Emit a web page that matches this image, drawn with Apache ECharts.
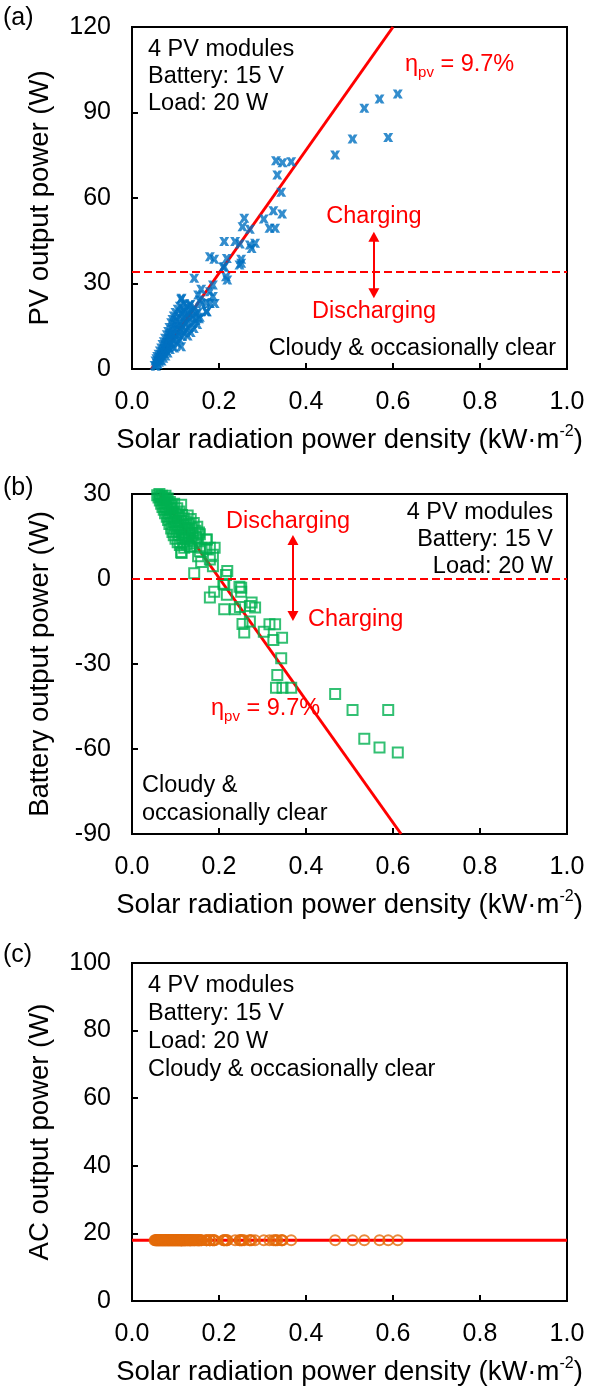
<!DOCTYPE html>
<html>
<head>
<meta charset="utf-8">
<script src="https://cdn.jsdelivr.net/npm/echarts@6/dist/echarts.min.js"></script>
<style>
  html, body { margin: 0; padding: 0; background: #fff; }
  #chart { width: 593px; height: 1390px; }
</style>
</head>
<body>
<div id="chart"></div>
<script>
// Solar radiation power density for each logged sample (kW·m-2)
const irradiance = [
  0.467, 0.507, 0.534, 0.569, 0.589, 0.611, 0.331, 0.346, 0.366, 0.334,
  0.343, 0.325, 0.345, 0.303, 0.258, 0.254, 0.271, 0.316, 0.329, 0.212,
  0.237, 0.248, 0.271, 0.283, 0.275, 0.179, 0.189, 0.218, 0.251, 0.247,
  0.210, 0.216, 0.143, 0.251, 0.212, 0.219, 0.186, 0.159, 0.179, 0.186,
  0.113, 0.171, 0.156, 0.190, 0.133, 0.171, 0.121, 0.114, 0.152, 0.160,
  0.172, 0.179,
  0.052, 0.054, 0.055, 0.056, 0.057, 0.058, 0.059, 0.060,
  0.061, 0.062, 0.063, 0.064, 0.065, 0.066, 0.067, 0.068, 0.069, 0.070,
  0.071, 0.072, 0.073, 0.074, 0.075, 0.076, 0.077, 0.078, 0.079, 0.080,
  0.081, 0.082, 0.083, 0.084, 0.085, 0.086, 0.087, 0.088, 0.089, 0.090,
  0.091, 0.092, 0.093, 0.094, 0.095, 0.096, 0.097, 0.098, 0.099, 0.100,
  0.101, 0.102, 0.103, 0.104, 0.105, 0.106, 0.107, 0.108, 0.109, 0.110,
  0.111, 0.112, 0.113, 0.114, 0.115, 0.116, 0.117, 0.118, 0.119, 0.120,
  0.122, 0.123, 0.124, 0.126, 0.127, 0.128, 0.130, 0.131, 0.133, 0.134, 0.135,
  0.137, 0.138, 0.140, 0.142, 0.144, 0.146, 0.148, 0.150, 0.152, 0.154, 0.156
];

// PV array output power (W)
const pvPower = [
  75.1, 80.7, 91.5, 94.7, 81.2, 96.5, 73.1, 72.4, 72.7, 68.1,
  62.0, 55.5, 54.4, 52.6, 52.9, 49.9, 49.0, 49.4, 49.4, 44.7,
  44.7, 43.9, 43.5, 44.1, 42.3, 39.4, 38.5, 38.8, 38.5, 36.5,
  35.7, 32.4, 31.8, 37.1, 35.9, 31.2, 29.5, 28.0, 27.1, 25.4,
  24.5, 23.3, 24.2, 23.0, 22.5, 20.1, 20.1, 24.8, 26.0, 23.0,
  20.1, 23.0,
  1.2, 2.8, 1.0, 3.6, 2.0, 4.4, 1.6, 3.0,
  5.2, 2.4, 4.0, 6.3, 3.2, 5.0, 7.4, 2.8, 4.6, 8.6,
  6.0, 3.8, 9.6, 5.4, 7.2, 10.8, 4.6, 8.4, 6.4, 12.0,
  9.2, 5.6, 13.2, 7.6, 10.6, 14.6, 6.8, 11.8, 9.0, 16.2,
  12.6, 8.0, 17.4, 10.4, 14.0, 18.6, 7.4, 12.2, 15.6, 19.8,
  10.8, 13.8, 17.0, 9.0, 21.0, 15.0, 12.0, 18.4, 10.2, 22.0,
  16.2, 13.4, 7.8, 19.6, 11.4, 14.8, 21.2, 17.6, 12.6, 23.0,
  15.8, 18.8, 13.6, 21.8, 16.6, 11.6, 19.8, 14.6, 17.8, 22.6, 12.8,
  20.6, 16.0, 18.6, 14.2, 21.4, 17.0, 19.4, 15.6, 20.0, 17.6, 18.2
];

// Battery output power (W); negative while the battery is being charged
const batteryPower = [
  -40.6, -46.2, -56.4, -59.5, -46.2, -61.2, -38.4, -38.4, -38.4, -33.9,
  -28.0, -21.5, -20.7, -18.6, -18.9, -15.9, -15.0, -16.0, -16.0, -10.7,
  -10.7, -9.9, -9.5, -10.1, -8.3, -6.5, -4.5, -5.6, -4.5, -2.7,
  -1.7, 1.4, 2.0, -3.1, -1.9, 2.8, 4.5, 6.0, 6.9, 8.6,
  9.5, 10.7, 9.8, 11.0, 11.5, 13.9, 13.9, 9.2, 8.0, 11.0,
  13.9, 11.0,
  32.8, 31.2, 33.0, 30.4, 32.0, 29.6, 32.4, 31.0,
  28.8, 31.6, 30.0, 27.7, 30.8, 29.0, 26.6, 31.2, 29.4, 25.4,
  28.0, 30.2, 24.4, 28.6, 26.8, 23.2, 29.4, 25.6, 27.6, 22.0,
  24.8, 28.4, 20.8, 26.4, 23.4, 19.4, 27.2, 22.2, 25.0, 17.8,
  21.4, 26.0, 16.6, 23.6, 20.0, 15.4, 26.6, 21.8, 18.4, 14.2,
  23.2, 20.2, 17.0, 25.0, 13.0, 19.0, 22.0, 15.6, 23.8, 12.0,
  17.8, 20.6, 26.2, 14.4, 22.6, 19.2, 12.8, 16.4, 21.4, 11.0,
  18.2, 15.2, 20.4, 12.2, 17.4, 22.4, 14.2, 19.4, 16.2, 11.4, 21.2,
  13.4, 18.0, 15.4, 19.8, 12.6, 17.0, 14.6, 18.4, 14.0, 16.4, 15.8
];

// Inverter AC output power (W)
const acPower = [
  18, 18, 18, 18, 18, 18, 18, 18, 18, 18,
  18, 18, 18, 18, 18, 18, 18, 18, 18, 18,
  18, 18, 18, 18, 18, 18, 18, 18, 18, 18,
  18, 18, 18, 18, 18, 18, 18, 18, 18, 18,
  18, 18, 18, 18, 18, 18, 18, 18, 18, 18,
  18, 18,
  18, 18, 18, 18, 18, 18, 18, 18,
  18, 18, 18, 18, 18, 18, 18, 18, 18, 18,
  18, 18, 18, 18, 18, 18, 18, 18, 18, 18,
  18, 18, 18, 18, 18, 18, 18, 18, 18, 18,
  18, 18, 18, 18, 18, 18, 18, 18, 18, 18,
  18, 18, 18, 18, 18, 18, 18, 18, 18, 18,
  18, 18, 18, 18, 18, 18, 18, 18, 18, 18,
  18, 18, 18, 18, 18, 18, 18, 18, 18, 18, 18,
  18, 18, 18, 18, 18, 18, 18, 18, 18, 18, 18
];

// Reference lines (efficiency fit, charge/discharge boundary, AC load level)
const pvFitLine = [[0.0445, 0], [0.600, 120]];
const batteryFitLine = [[0.063, 30], [0.6186, -90]];
const acLevelLine = [[0, 18], [1, 18]];
const pvBoundary = 34;
const batteryBoundary = 0;
const pvArrow = [[0.556, 46.4], [0.556, 26.6]];
const batteryArrow = [[0.370, 13.8], [0.370, -13.1]];

// Axis ranges: [min, max, interval]
const xRange = [0, 1, 0.2];
const pvRange = [0, 120, 30];
const batteryRange = [-90, 30, 30];
const acRange = [0, 100, 20];

const pvPoints = irradiance.map((g, i) => [g, pvPower[i]]);
const batteryPoints = irradiance.map((g, i) => [g, batteryPower[i]]);
const acPoints = irradiance.map((g, i) => [g, acPower[i]]);

const FONT = '"Liberation Sans", Arial, Helvetica, sans-serif';
const RED = '#FF0000';
const BLUE = '#0070C0';
const GREEN = '#00B050';
const ORANGE = '#E46C0A';

const grids = [
  { left: 132, top: 27, width: 435, height: 342 },
  { left: 132, top: 494, width: 435, height: 340 },
  { left: 132, top: 963, width: 435, height: 338 }
].map(g => Object.assign(g, { show: true, borderColor: '#000', borderWidth: 2, backgroundColor: 'transparent' }));

const xTitle = '{a|Solar radiation power density (kW·m}{s|-2}{a|)}';

function xAxisFor(idx) {
  return {
    type: 'value', gridIndex: idx,
    min: xRange[0], max: xRange[1], interval: xRange[2],
    axisLine: { onZero: false, lineStyle: { color: '#000', width: 2 } },
    axisTick: { inside: true, length: 6, lineStyle: { color: '#000', width: 2 } },
    axisLabel: { color: '#000', fontSize: 25, fontFamily: FONT, margin: 21,
                 formatter: v => v.toFixed(1) },
    splitLine: { show: false },
    name: xTitle, nameLocation: 'middle', nameGap: 55,
    nameTextStyle: {
      color: '#000', fontFamily: FONT,
      rich: {
        a: { fontSize: 27.5, lineHeight: 32, color: '#000', fontFamily: FONT },
        s: { fontSize: 16, lineHeight: 16, verticalAlign: 'top', color: '#000', fontFamily: FONT }
      }
    }
  };
}

function yAxisFor(idx, range, title) {
  return {
    type: 'value', gridIndex: idx,
    min: range[0], max: range[1], interval: range[2],
    axisLine: { onZero: false, lineStyle: { color: '#000', width: 2 } },
    axisTick: { inside: true, length: 6, lineStyle: { color: '#000', width: 2 } },
    axisLabel: { color: '#000', fontSize: 25, fontFamily: FONT, margin: 21 },
    splitLine: { show: false },
    name: title, nameLocation: 'middle', nameGap: 78,
    nameTextStyle: { color: '#000', fontSize: 27.5, fontFamily: FONT }
  };
}

// bold "x" marker
const xMark = 'path://M0,0 H3.6 L5,2.4 L6.4,0 H10 L7.2,5 L10,10 H6.4 L5,7.6 L3.6,10 H0 L2.8,5 Z';

function arrowMark(points) {
  return {
    silent: true, animation: false,
    symbol: ['triangle', 'triangle'], symbolSize: [11, 10],
    label: { show: false },
    lineStyle: { color: RED, width: 2, type: 'solid' },
    data: [[{ coord: points[0] }, { coord: points[1] }]]
  };
}

function boundaryMark(value) {
  return {
    silent: true, animation: false, symbol: 'none',
    label: { show: false },
    lineStyle: { color: RED, width: 2, type: [8, 4] },
    data: [{ yAxis: value }]
  };
}

function txt(x, y, text, opts) {
  return {
    type: 'text', x: x, y: y, z: 100,
    style: Object.assign({
      text: text, fill: '#000', fontSize: 23.5, fontFamily: FONT,
      verticalAlign: 'middle', align: 'left'
    }, opts || {})
  };
}

const etaRich = {
  e: { fontSize: 23.5, lineHeight: 30, fontFamily: FONT, fill: RED, color: RED },
  s: { fontSize: 15, lineHeight: 15, verticalAlign: 'bottom', fontFamily: FONT, fill: RED, color: RED }
};
function etaText(x, y) {
  return {
    type: 'text', x: x, y: y, z: 100,
    style: {
      text: '{e|η}{s|pv}{e| = 9.7%}', rich: etaRich, fill: RED,
      fontFamily: FONT, verticalAlign: 'middle', align: 'left'
    }
  };
}

const option = {
  animation: false,
  backgroundColor: '#fff',
  grid: grids,
  xAxis: [xAxisFor(0), xAxisFor(1), xAxisFor(2)],
  yAxis: [
    yAxisFor(0, pvRange, 'PV output power (W)'),
    yAxisFor(1, batteryRange, 'Battery output power (W)'),
    yAxisFor(2, acRange, 'AC output power (W)')
  ],
  series: [
    // (a) PV output
    {
      type: 'line', xAxisIndex: 0, yAxisIndex: 0, data: pvFitLine,
      symbol: 'none', lineStyle: { color: RED, width: 3 }, z: 2,
      markLine: arrowMark(pvArrow)
    },
    {
      type: 'scatter', xAxisIndex: 0, yAxisIndex: 0, data: pvPoints,
      symbol: xMark, symbolSize: [10, 9], z: 3,
      itemStyle: { color: BLUE },
      markLine: boundaryMark(pvBoundary)
    },
    // (b) battery output
    {
      type: 'line', xAxisIndex: 1, yAxisIndex: 1, data: batteryFitLine,
      symbol: 'none', lineStyle: { color: RED, width: 3 }, z: 2,
      markLine: arrowMark(batteryArrow)
    },
    {
      type: 'scatter', xAxisIndex: 1, yAxisIndex: 1, data: batteryPoints,
      symbol: 'rect', symbolSize: 10, z: 3, clip: true,
      itemStyle: { color: 'rgba(255,255,255,0)', borderColor: GREEN, borderWidth: 2 },
      markLine: boundaryMark(batteryBoundary)
    },
    // (c) AC output
    {
      type: 'line', xAxisIndex: 2, yAxisIndex: 2, data: acLevelLine,
      symbol: 'none', lineStyle: { color: RED, width: 3 }, z: 2
    },
    {
      type: 'scatter', xAxisIndex: 2, yAxisIndex: 2, data: acPoints,
      symbol: 'circle', symbolSize: 10, z: 3,
      itemStyle: { color: 'rgba(255,255,255,0)', borderColor: ORANGE, borderWidth: 2 }
    }
  ],
  graphic: [
    // panel letters
    txt(3, 18, '(a)', { fontSize: 25 }),
    txt(3, 488, '(b)', { fontSize: 25 }),
    txt(3, 955, '(c)', { fontSize: 25 }),
    // (a)
    txt(148, 50, '4 PV modules'),
    txt(148, 77, 'Battery: 15 V'),
    txt(148, 104, 'Load: 20 W'),
    etaText(405, 65),
    txt(374, 217, 'Charging', { fill: RED, align: 'center' }),
    txt(374, 312, 'Discharging', { fill: RED, align: 'center' }),
    txt(556, 349, 'Cloudy & occasionally clear', { align: 'right' }),
    // (b)
    txt(553, 513, '4 PV modules', { align: 'right' }),
    txt(553, 540, 'Battery: 15 V', { align: 'right' }),
    txt(553, 567, 'Load: 20 W', { align: 'right' }),
    txt(288, 522, 'Discharging', { fill: RED, align: 'center' }),
    txt(308, 620, 'Charging', { fill: RED }),
    etaText(211, 709),
    txt(142, 786, 'Cloudy &'),
    txt(142, 814, 'occasionally clear'),
    // (c)
    txt(148, 986, '4 PV modules'),
    txt(148, 1014, 'Battery: 15 V'),
    txt(148, 1042, 'Load: 20 W'),
    txt(148, 1070, 'Cloudy & occasionally clear')
  ]
};

const chart = echarts.init(document.getElementById('chart'), null, { renderer: 'canvas' });
chart.setOption(option);
</script>
</body>
</html>
